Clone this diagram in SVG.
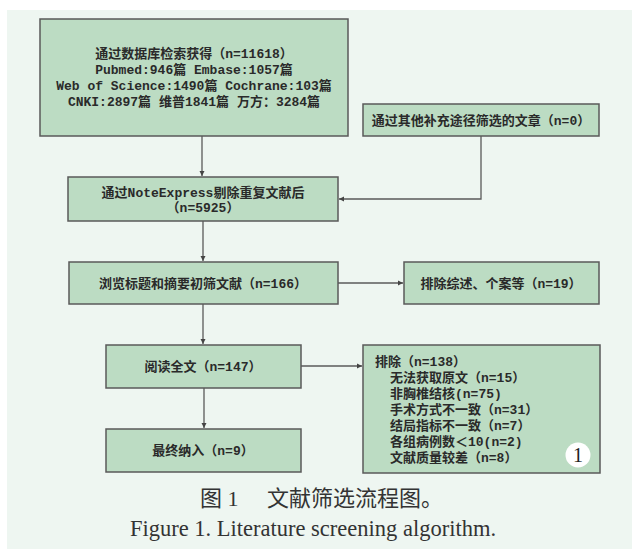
<svg xmlns="http://www.w3.org/2000/svg" width="632" height="549" viewBox="0 0 632 549">
<style>
.bx{fill:#bcdcc3;stroke:#5a5a5a;stroke-width:1.5}
.t{font-family:"Liberation Mono","Noto Sans CJK SC",monospace;font-size:13px;font-weight:bold;fill:#2a2a2a}
.c{text-anchor:middle}
.ln{stroke:#5a5a5a;stroke-width:1.3;fill:none}
</style>
<defs>
<marker id="ah" markerWidth="6" markerHeight="6" refX="5" refY="3" orient="auto" markerUnits="userSpaceOnUse">
<path d="M0,0.5 L5,3 L0,5.5 Z" fill="#444"/>
</marker>
</defs>
<rect x="0" y="0" width="632" height="549" fill="#ffffff"/>
<rect x="7" y="10" width="625" height="539" fill="#eef6f1"/>
<g id="connectors">
<path class="ln" d="M202,136 V176" marker-end="url(#ah)"/>
<path class="ln" d="M481,136 V199 H339" marker-end="url(#ah)"/>
<path class="ln" d="M203,221 V261" marker-end="url(#ah)"/>
<path class="ln" d="M338,283 H403" marker-end="url(#ah)"/>
<path class="ln" d="M203,304 V344" marker-end="url(#ah)"/>
<path class="ln" d="M301,366 H362" marker-end="url(#ah)"/>
<path class="ln" d="M204,388 V428" marker-end="url(#ah)"/>
</g>
<g id="n1">
<rect class="bx" x="40" y="19" width="308" height="117"/>
<text class="t c" x="194" y="58">通过数据库检索获得（n=11618）</text>
<text class="t c" x="194" y="74">Pubmed:946篇 Embase:1057篇</text>
<text class="t c" x="194" y="90">Web of Science:1490篇 Cochrane:103篇</text>
<text class="t c" x="194" y="106">CNKI:2897篇  维普1841篇  万方：3284篇</text>
</g>
<g id="n2">
<rect class="bx" x="363" y="104" width="236" height="32"/>
<text class="t c" x="481" y="125">通过其他补充途径筛选的文章（n=0）</text>
</g>
<g id="n3">
<rect class="bx" x="68" y="177" width="270" height="44"/>
<text class="t c" x="203" y="197">通过NoteExpress剔除重复文献后</text>
<text class="t c" x="203" y="212">（n=5925）</text>
</g>
<g id="n4">
<rect class="bx" x="69" y="262" width="269" height="42"/>
<text class="t c" x="203" y="288">浏览标题和摘要初筛文献（n=166）</text>
</g>
<g id="n5">
<rect class="bx" x="404" y="262" width="195" height="42"/>
<text class="t c" x="501" y="288">排除综述、个案等（n=19）</text>
</g>
<g id="n6">
<rect class="bx" x="106" y="345" width="195" height="43"/>
<text class="t c" x="203" y="371">阅读全文（n=147）</text>
</g>
<g id="n7">
<rect class="bx" x="363" y="345" width="237" height="128"/>
<text class="t" x="375" y="366">排除（n=138）</text>
<text class="t" x="390" y="382">无法获取原文（n=15）</text>
<text class="t" x="390" y="398">非胸椎结核(n=75)</text>
<text class="t" x="390" y="414">手术方式不一致（n=31）</text>
<text class="t" x="390" y="430">结局指标不一致（n=7）</text>
<text class="t" x="390" y="446">各组病例数＜10(n=2)</text>
<text class="t" x="390" y="462">文献质量较差（n=8）</text>
<circle cx="578" cy="455" r="12.5" fill="#ffffff"/>
<text x="578" y="462" text-anchor="middle" font-family="Liberation Serif, serif" font-size="20" fill="#222">1</text>
</g>
<g id="n8">
<rect class="bx" x="106" y="429" width="195" height="43"/>
<text class="t c" x="203" y="455">最终纳入（n=9）</text>
</g>
<text x="200" y="506" font-family="Liberation Serif, Noto Sans CJK SC, serif" font-size="22" fill="#333">图 1<tspan x="267">文献筛选流程图。</tspan></text>
<text x="313" y="536" text-anchor="middle" font-family="Liberation Serif, serif" font-size="22.5" fill="#333">Figure 1. Literature screening algorithm.</text>
</svg>
